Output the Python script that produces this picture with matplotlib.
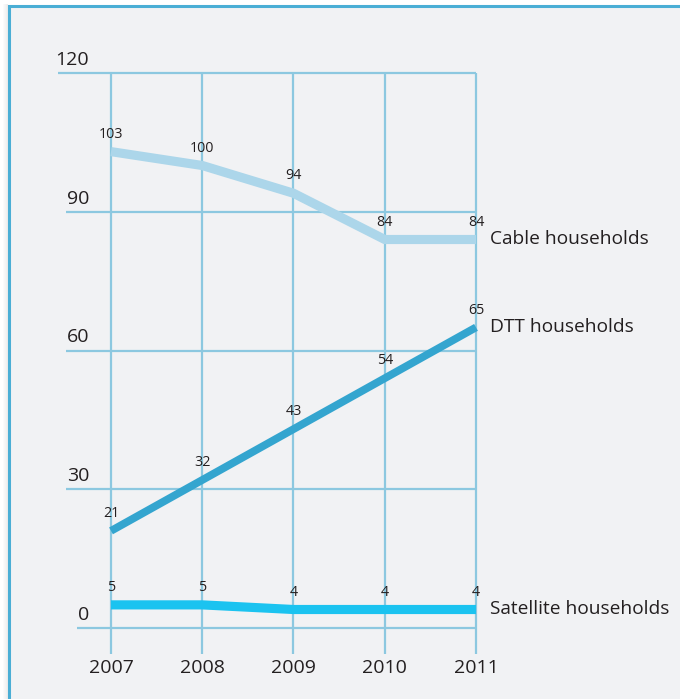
import matplotlib
matplotlib.use("Agg")
import matplotlib.pyplot as plt
from matplotlib.patches import Rectangle

years = [2007, 2008, 2009, 2010, 2011]
cable = [103, 100, 94, 84, 84]
dtt = [21, 32, 43, 54, 65]
satellite = [5, 5, 4, 4, 4]
series_names = ["Cable households", "DTT households", "Satellite households"]
y_ticks = [0, 30, 60, 90, 120]

W, H = 680, 699
plt.rcParams['font.family'] = ['Open Sans', 'DejaVu Sans']
text_col = "#231f20"
grid_col = "#8cc8e0"

fig = plt.figure(figsize=(W / 100, H / 100), dpi=100, facecolor="white")

# frame: soft shadow on the left, light panel, blue border on left/top
for i, a in enumerate([0.04, 0.07, 0.10, 0.14, 0.18]):
    fig.add_artist(Rectangle(((3 + i) / W, 0), 1 / W, (H - 4) / H,
                             transform=fig.transFigure, color="#9a9a9a",
                             alpha=a, lw=0, zorder=-5))
fig.add_artist(Rectangle((9 / W, -0.05), 1.2, (H - 6) / H + 0.05,
                         transform=fig.transFigure, facecolor="#f1f2f4",
                         edgecolor="#4aaed5", lw=2.2, zorder=-4))

ax = fig.add_axes([0, 0, 1, 1])
ax.set_facecolor("none")
ax.axis("off")

# pixel mapping: 2007 -> x=111, 2011 -> x=476 ; 0 -> y=628, 120 -> y=73
px_yr = (476 - 111) / (years[-1] - years[0])
px_val = (628 - 73) / 120
x0 = years[0] - 111 / px_yr
y0 = -(H - 628) / px_val
ax.set_xlim(x0, x0 + W / px_yr)
ax.set_ylim(y0, y0 + H / px_val)

# grid
label_left = {0: 77, 30: 66, 60: 66, 90: 66, 120: 58}
for v in y_ticks:
    xs = x0 + label_left[v] / px_yr
    ax.hlines(v, xs, years[-1], color=grid_col, lw=1.6, zorder=1)
    ax.text(x0 + 89 / px_yr, v + 13 / px_val, str(v), ha="right", va="center",
            fontsize=14, color=text_col)
ax.vlines(years, -5.6, 120, color=grid_col, lw=1.6, zorder=1)
for yr in years:
    ax.text(yr, -8.6, str(yr), ha="center", va="center", fontsize=14,
            color=text_col)

# series
styles = [("#acd6ea", 6.6), ("#34a5cf", 5.6), ("#1bc3f0", 6.6)]
for vals, name, (col, lw) in zip([cable, dtt, satellite], series_names, styles):
    ax.plot(years, vals, color=col, lw=lw, solid_capstyle="butt",
            solid_joinstyle="round", zorder=3)
    for yr, v in zip(years, vals):
        ax.annotate(str(v), (yr, v), xytext=(0, 12.5), textcoords="offset points",
                    ha="center", va="center", fontsize=10.3, color=text_col,
                    zorder=4)
    ax.text(years[-1] + 14 / px_yr, vals[-1], name, ha="left", va="center",
            fontsize=13.8, color=text_col)

fig.savefig("out.png", dpi=100, facecolor=fig.get_facecolor())
